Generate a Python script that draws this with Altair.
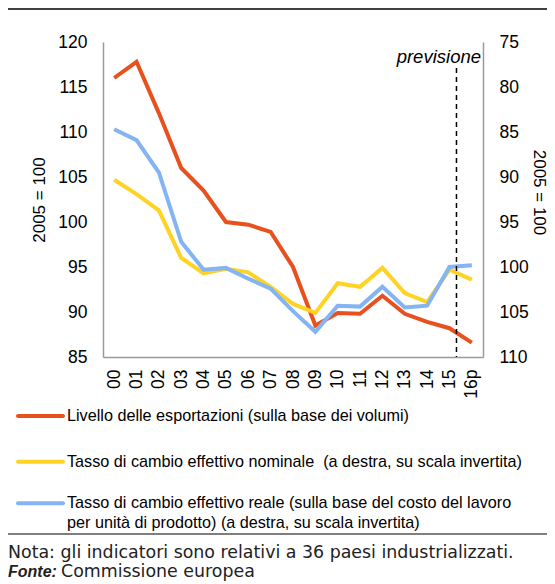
import altair as alt
import pandas as pd

years = ["00", "01", "02", "03", "04", "05", "06", "07", "08", "09",
         "10", "11", "12", "13", "14", "15", "16p"]
export_level = [116.0, 117.8, 112.1, 106.0, 103.5, 100.0, 99.7, 98.9, 95.0,
                88.5, 89.9, 89.8, 91.8, 89.8, 88.9, 88.2, 86.6]
nominal_rate = [90.3, 91.9, 93.7, 99.0, 100.7, 100.2, 100.6, 102.2, 104.1,
                105.1, 101.8, 102.2, 100.1, 102.9, 103.9, 100.3, 101.4]
real_rate = [84.7, 85.9, 89.5, 97.2, 100.3, 100.1, 101.3, 102.4, 104.9,
             107.2, 104.3, 104.4, 102.2, 104.5, 104.3, 100.0, 99.8]
series = [
    "Livello delle esportazioni (sulla base dei volumi)",
    "Tasso di cambio effettivo nominale \u00a0(a destra, su scala invertita)",
    "Tasso di cambio effettivo reale (sulla base del costo del lavoro\nper unità di prodotto) (a destra, su scala invertita)",
]
colors = ["#E8501E", "#FFD324", "#84B4F2"]
left_ticks = [85, 90, 95, 100, 105, 110, 115, 120]
right_ticks = [75, 80, 85, 90, 95, 100, 105, 110]
axis_title = "2005 = 100"
forecast_label = "previsione"
forecast_start = "15"
note_text = "Nota: gli indicatori sono relativi a 36 paesi industrializzati."
source_label = "Fonte:"
source_text = "Commissione europea"

FONT = "Liberation Sans"
NOTE_FONT = "DejaVu Sans"

def frame(values, name):
    return pd.DataFrame({"year": years, "value": values, "series": name})

df_exp = frame(export_level, series[0])
df_nom = frame(nominal_rate, series[1])
df_real = frame(real_rate, series[2])

X = alt.X("year:O", sort=years,
          scale=alt.Scale(type="point", padding=0.5, domain=years),
          axis=alt.Axis(title=None, labelAngle=-90, labelPadding=12))
color = alt.Color("series:N", scale=alt.Scale(domain=series, range=colors),
                  legend=None)

left = alt.Chart(df_exp).mark_line(strokeWidth=4).encode(
    x=X,
    y=alt.Y("value:Q", scale=alt.Scale(domain=[85, 120], nice=False, zero=False),
            axis=alt.Axis(values=left_ticks, title=axis_title, orient="left",
                          labelPadding=16, titleX=-64, titleAngle=-90,
                          titleBaseline="middle", titleAlign="center")),
    color=color,
)

right_y = alt.Y("value:Q",
                scale=alt.Scale(domain=[75, 110], reverse=True, nice=False, zero=False),
                axis=alt.Axis(values=right_ticks, title=axis_title, orient="right",
                              labelPadding=16, titleX=55, titleY=150, titleAngle=90,
                              titleBaseline="middle", titleAlign="center"))
nom = alt.Chart(df_nom).mark_line(strokeWidth=4).encode(x=X, y=right_y, color=color)
real = alt.Chart(df_real).mark_line(strokeWidth=4).encode(x=X, y=right_y, color=color)
right = alt.layer(nom, real)

one = alt.Data(values=[{"year": forecast_start}])

rule = alt.Chart(one).mark_rule(strokeDash=[5, 4], color="black",
                                strokeWidth=1.5, xOffset=7).encode(
    x=X, y=alt.value(26), y2=alt.value(315))

prev = alt.Chart(one).mark_text(align="right", baseline="middle", fontSize=18.5,
                                fontStyle="italic", font=FONT, color="black").encode(
    x=alt.value(378), y=alt.value(14.5), text=alt.value(forecast_label))

layers = [left, right, rule, prev]

# legend (manual, below the plot)
leg_rows = [374, 419.7, 461.3]
for i, name in enumerate(series):
    d = alt.Data(values=[{"s": name}])
    layers.append(alt.Chart(d).mark_rule(strokeWidth=4, strokeCap="round").encode(
        x=alt.value(-85), x2=alt.value(-40), y=alt.value(leg_rows[i]),
        color=alt.value(colors[i])))
    for j, line in enumerate(name.split("\n")):
        layers.append(alt.Chart(d).mark_text(align="left", baseline="middle",
                                             fontSize=16.2, font=FONT, color="black").encode(
            x=alt.value(-36), y=alt.value(leg_rows[i] + 20 * j), text=alt.value(line)))

d0 = alt.Data(values=[{"a": 1}])
# horizontal frame lines
layers.append(alt.Chart(d0).mark_rule(color="black", strokeWidth=1.5).encode(
    x=alt.value(-95), x2=alt.value(444), y=alt.value(-33)))
layers.append(alt.Chart(d0).mark_rule(color="black", strokeWidth=1.2).encode(
    x=alt.value(-95), x2=alt.value(444), y=alt.value(492)))
# notes
layers.append(alt.Chart(d0).mark_text(align="left", baseline="middle", fontSize=17.4,
                                      font=NOTE_FONT, color="#222").encode(
    x=alt.value(-95), y=alt.value(511), text=alt.value(note_text)))
layers.append(alt.Chart(d0).mark_text(align="left", baseline="middle", fontSize=16,
                                      font=FONT, fontWeight="bold", fontStyle="italic",
                                      color="#222").encode(
    x=alt.value(-95), y=alt.value(530), text=alt.value(source_label)))
layers.append(alt.Chart(d0).mark_text(align="left", baseline="middle", fontSize=17.4,
                                      font=NOTE_FONT, color="#222").encode(
    x=alt.value(-42), y=alt.value(530), text=alt.value(source_text)))

chart = alt.layer(*layers).resolve_scale(y="independent").properties(
    width=380, height=315,
    padding={"left": 95, "top": 34, "right": 64, "bottom": 226},
    autosize="none",
).configure_view(stroke=None).configure_axis(
    domainColor="#9a9a9a", domainWidth=1.5, ticks=False, grid=False,
    labelFont=FONT, labelFontSize=17.5, labelColor="black",
    titleFont=FONT, titleFontSize=17, titleFontWeight="normal", titleColor="black",
)

chart.save("out.html", embed_options={"renderer": "svg", "actions": False})
